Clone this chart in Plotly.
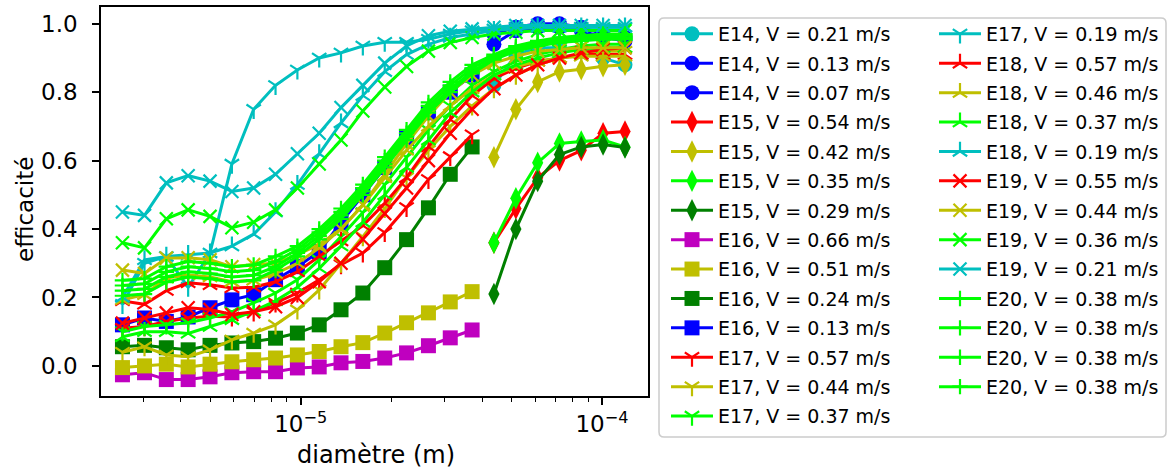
import plotly.graph_objects as go

# ---------------- data ----------------
diam = [2.56e-6, 3.03e-6, 3.58e-6, 4.23e-6, 5.00e-6, 5.91e-6, 6.98e-6, 8.25e-6,
        9.75e-6, 1.152e-5, 1.361e-5, 1.608e-5, 1.901e-5, 2.246e-5, 2.655e-5,
        3.137e-5, 3.707e-5, 4.38e-5, 5.18e-5, 6.12e-5, 7.23e-5, 8.54e-5,
        1.009e-4, 1.193e-4]
diam_small = diam[:17]
diam_large = diam[17:]

E14_021 = [0.82, 0.91, 0.93, 0.93, 0.92, 0.90, 0.88]
E14_013 = [0.97, 0.99, 1.00, 1.00, 0.99, 0.97, 0.96]
E14_007 = [0.94, 0.98, 0.99, 0.99, 0.98, 0.96, 0.95]
E15_054 = [0.36, 0.46, 0.55, 0.60, 0.63, 0.68, 0.685]
E15_042 = [0.61, 0.75, 0.83, 0.86, 0.867, 0.876, 0.88]
E15_035 = [0.36, 0.49, 0.594, 0.65, 0.656, 0.66, 0.64]
E15_029 = [0.21, 0.40, 0.54, 0.618, 0.64, 0.647, 0.638]
E16_066 = [-0.026, -0.02, -0.04, -0.04, -0.032, -0.02, -0.017, -0.017, -0.006,
           -0.003, 0.009, 0.013, 0.023, 0.038, 0.059, 0.082, 0.105]
E16_051 = [-0.005, 0.0, 0.005, -0.003, 0.005, 0.012, 0.018, 0.023, 0.032, 0.042,
           0.056, 0.068, 0.096, 0.126, 0.155, 0.187, 0.217]
E16_024 = [0.056, 0.06, 0.053, 0.047, 0.06, 0.067, 0.071, 0.081, 0.096, 0.12,
           0.164, 0.213, 0.287, 0.369, 0.462, 0.56, 0.64]
E16_013 = [0.12, 0.14, 0.13, 0.143, 0.17, 0.193, 0.208, 0.252, 0.29, 0.334,
           0.419, 0.50, 0.58, 0.665, 0.74, 0.80, 0.85]
E17_057 = [0.11, 0.115, 0.13, 0.14, 0.145, 0.143, 0.158, 0.184, 0.213, 0.252,
           0.296, 0.33, 0.39, 0.463, 0.545, 0.612, 0.676]
E17_044 = [0.04, 0.056, 0.032, 0.027, 0.047, 0.076, 0.096, 0.12, 0.164, 0.222,
           0.30, 0.378, 0.46, 0.55, 0.63, 0.70, 0.76, 0.81, 0.85, 0.88, 0.90,
           0.91, 0.92, 0.92]
E17_037 = [0.10, 0.115, 0.12, 0.126, 0.14, 0.158, 0.184, 0.213, 0.252, 0.31,
           0.378, 0.448, 0.53, 0.61, 0.69, 0.76, 0.82, 0.86, 0.89, 0.91, 0.925,
           0.935, 0.94, 0.94]
E17_019 = [0.18, 0.30, 0.32, 0.23, 0.33, 0.59, 0.75, 0.82, 0.865, 0.90, 0.915,
           0.935, 0.946, 0.946, 0.955, 0.97, 0.98, 0.985, 0.99, 0.99, 0.99,
           0.99, 0.99, 0.99]
E18_057 = [0.19, 0.18, 0.22, 0.243, 0.237, 0.228, 0.23, 0.246, 0.275, 0.32,
           0.365, 0.41, 0.475, 0.55, 0.64, 0.72, 0.79, 0.84, 0.87, 0.89, 0.90,
           0.91, 0.91, 0.91]
E18_046 = [0.193, 0.208, 0.257, 0.266, 0.26, 0.246, 0.25, 0.27, 0.30, 0.345,
           0.40, 0.47, 0.55, 0.63, 0.70, 0.76, 0.81, 0.85, 0.875, 0.89, 0.90,
           0.905, 0.905, 0.905]
E18_037 = [0.085, 0.10, 0.10, 0.095, 0.115, 0.135, 0.16, 0.19, 0.23, 0.285,
           0.35, 0.42, 0.50, 0.58, 0.66, 0.74, 0.80, 0.85, 0.88, 0.90, 0.915,
           0.925, 0.93, 0.93]
E18_019 = [0.20, 0.31, 0.32, 0.325, 0.33, 0.35, 0.385, 0.45, 0.53, 0.62, 0.71,
           0.79, 0.86, 0.91, 0.94, 0.96, 0.97, 0.98, 0.985, 0.99, 0.99, 0.99,
           0.99, 0.99]
E19_055 = [0.125, 0.14, 0.155, 0.17, 0.165, 0.15, 0.158, 0.173, 0.20, 0.246,
           0.30, 0.37, 0.445, 0.52, 0.60, 0.68, 0.75, 0.81, 0.85, 0.88, 0.90,
           0.915, 0.925, 0.93]
E19_044 = [0.28, 0.27, 0.315, 0.316, 0.31, 0.29, 0.296, 0.30, 0.325, 0.355,
           0.40, 0.47, 0.56, 0.65, 0.73, 0.80, 0.85, 0.885, 0.905, 0.92, 0.925,
           0.93, 0.93, 0.93]
E19_036 = [0.36, 0.345, 0.43, 0.456, 0.437, 0.404, 0.42, 0.456, 0.52, 0.59,
           0.66, 0.745, 0.815, 0.875, 0.92, 0.945, 0.96, 0.97, 0.975, 0.98,
           0.98, 0.98, 0.98, 0.98]
E19_021 = [0.45, 0.44, 0.535, 0.556, 0.54, 0.51, 0.52, 0.56, 0.62, 0.68, 0.755,
           0.82, 0.885, 0.935, 0.965, 0.978, 0.985, 0.99, 0.995, 0.995, 0.995,
           0.995, 0.995, 0.995]
E20_a = [0.25, 0.255, 0.29, 0.305, 0.30, 0.29, 0.295, 0.32, 0.35, 0.40, 0.46,
         0.53, 0.61, 0.69, 0.77, 0.83, 0.88, 0.91, 0.935, 0.95, 0.96, 0.965,
         0.97, 0.97]
E20_b = [0.235, 0.24, 0.275, 0.29, 0.285, 0.275, 0.28, 0.305, 0.34, 0.39, 0.45,
         0.52, 0.60, 0.68, 0.76, 0.82, 0.87, 0.905, 0.93, 0.945, 0.955, 0.96,
         0.965, 0.965]
E20_c = [0.22, 0.225, 0.26, 0.275, 0.27, 0.26, 0.265, 0.29, 0.33, 0.38, 0.44,
         0.51, 0.59, 0.67, 0.75, 0.81, 0.86, 0.90, 0.925, 0.94, 0.95, 0.955,
         0.96, 0.96]
E20_d = [0.205, 0.21, 0.245, 0.26, 0.255, 0.245, 0.25, 0.28, 0.32, 0.37, 0.43,
         0.50, 0.58, 0.66, 0.74, 0.80, 0.855, 0.895, 0.92, 0.935, 0.945, 0.95,
         0.955, 0.955]

labels = ["E14, V = 0.21 m/s", "E14, V = 0.13 m/s", "E14, V = 0.07 m/s",
          "E15, V = 0.54 m/s", "E15, V = 0.42 m/s", "E15, V = 0.35 m/s",
          "E15, V = 0.29 m/s", "E16, V = 0.66 m/s", "E16, V = 0.51 m/s",
          "E16, V = 0.24 m/s", "E16, V = 0.13 m/s", "E17, V = 0.57 m/s",
          "E17, V = 0.44 m/s", "E17, V = 0.37 m/s", "E17, V = 0.19 m/s",
          "E18, V = 0.57 m/s", "E18, V = 0.46 m/s", "E18, V = 0.37 m/s",
          "E18, V = 0.19 m/s", "E19, V = 0.55 m/s", "E19, V = 0.44 m/s",
          "E19, V = 0.36 m/s", "E19, V = 0.21 m/s", "E20, V = 0.38 m/s",
          "E20, V = 0.38 m/s", "E20, V = 0.38 m/s", "E20, V = 0.38 m/s"]

x_title = "diamètre (m)"
y_title = "efficacité"
xtick_vals = [1e-5, 1e-4]
xtick_text = ["10<sup>\u22125</sup>", "10<sup>\u22124</sup>"]
xminor_vals = [2e-6, 3e-6, 4e-6, 5e-6, 6e-6, 7e-6, 8e-6, 9e-6,
               2e-5, 3e-5, 4e-5, 5e-5, 6e-5, 7e-5, 8e-5, 9e-5]
ytick_vals = [0.0, 0.2, 0.4, 0.6, 0.8, 1.0]

# ---------------- styles ----------------
C = "#00bfbf"; B = "#0000ff"; R = "#ff0000"; Y = "#bfbf00"
L = "#00ff00"; G = "#008000"; M = "#bf00bf"

series = [
    (diam_large, E14_021, C, "circle"), (diam_large, E14_013, B, "circle"),
    (diam_large, E14_007, B, "circle"),
    (diam_large, E15_054, R, "diamond-tall"), (diam_large, E15_042, Y, "diamond-tall"),
    (diam_large, E15_035, L, "diamond-tall"), (diam_large, E15_029, G, "diamond-tall"),
    (diam_small, E16_066, M, "square"), (diam_small, E16_051, Y, "square"),
    (diam_small, E16_024, G, "square"), (diam_small, E16_013, B, "square"),
    (diam_small, E17_057, R, "y-down"), (diam, E17_044, Y, "y-down"),
    (diam, E17_037, L, "y-down"), (diam, E17_019, C, "y-down"),
    (diam, E18_057, R, "y-up"), (diam, E18_046, Y, "y-up"),
    (diam, E18_037, L, "y-up"), (diam, E18_019, C, "y-up"),
    (diam, E19_055, R, "x-thin"), (diam, E19_044, Y, "x-thin"),
    (diam, E19_036, L, "x-thin"), (diam, E19_021, C, "x-thin"),
    (diam, E20_a, L, "cross-thin"), (diam, E20_b, L, "cross-thin"),
    (diam, E20_c, L, "cross-thin"), (diam, E20_d, L, "cross-thin"),
]

sizes = {"circle": 15, "square": 15, "diamond-tall": 16, "y-down": 12,
         "y-up": 12, "x-thin": 13, "cross-thin": 11}

fig = go.Figure()
for i, ((xs, ys, col, sym), lab) in enumerate(zip(series, labels)):
    thin = sym in ("y-down", "y-up", "x-thin", "cross-thin")
    fig.add_trace(go.Scatter(
        x=xs, y=ys, name=lab, mode="lines+markers",
        line=dict(color=col, width=3),
        marker=dict(symbol=sym, size=sizes[sym], color=col,
                    line=dict(color=col, width=2.2 if thin else 0)),
        legend="legend" if i < 14 else "legend2",
        legendgroup=f"g{i}",
    ))

W, H = 1173, 472
ml, mr, mt, mb = 101, 525, 7, 76
pw, ph = W - ml - mr, H - mt - mb

def px2paper(px, py):
    return (px - ml) / pw, (H - mb - py) / ph

# rounded legend frame
fx0, fy0 = px2paper(659, 437)
fx1, fy1 = px2paper(1166, 18)
rx, ry = 5 / pw, 5 / ph
frame = (f"M{fx0+rx},{fy1} L{fx1-rx},{fy1} Q{fx1},{fy1} {fx1},{fy1-ry} "
         f"L{fx1},{fy0+ry} Q{fx1},{fy0} {fx1-rx},{fy0} L{fx0+rx},{fy0} "
         f"Q{fx0},{fy0} {fx0},{fy0+ry} L{fx0},{fy1-ry} Q{fx0},{fy1} {fx0+rx},{fy1} Z")

leg_common = dict(xref="container", yref="container", xanchor="left",
                  yanchor="top", font=dict(size=19, color="black"),
                  bgcolor="rgba(0,0,0,0)", borderwidth=0, itemwidth=42,
                  tracegroupgap=1.7, maxheight=460)

xt_x, xt_y = px2paper(376, 455)
yt_x, yt_y = px2paper(25, 210)

fig.update_layout(
    width=W, height=H,
    margin=dict(l=ml, r=mr, t=mt, b=mb, pad=0, autoexpand=False),
    plot_bgcolor="white", paper_bgcolor="white",
    font=dict(family="DejaVu Sans", size=23, color="black"),
    showlegend=True,
    legend=dict(x=666 / W, y=1 - 15 / H, **leg_common),
    legend2=dict(x=934 / W, y=1 - 15 / H, **leg_common),
    shapes=[dict(type="path", path=frame, xref="paper", yref="paper",
                 line=dict(color="#cccccc", width=1.5),
                 fillcolor="rgba(255,255,255,0.8)", layer="below")],
    annotations=[
        dict(text=x_title, x=xt_x, y=xt_y, xref="paper", yref="paper",
             xanchor="center", yanchor="middle", showarrow=False,
             font=dict(size=24)),
        dict(text=y_title, x=yt_x, y=yt_y, xref="paper", yref="paper",
             xanchor="center", yanchor="middle", showarrow=False,
             textangle=-90, font=dict(size=23)),
    ],
    xaxis=dict(
        type="log", range=[-5.663, -3.847], automargin=False,
        tickvals=xtick_vals, ticktext=xtick_text,
        ticks="outside", ticklen=7, tickwidth=1.6, tickcolor="black",
        showline=True, linecolor="black", linewidth=1.6, mirror=True,
        showgrid=False, zeroline=False,
        minor=dict(tickvals=xminor_vals, ticks="outside", ticklen=4,
                   tickwidth=1.2, tickcolor="black", showgrid=False),
    ),
    yaxis=dict(
        range=[-0.088, 1.049], tickvals=ytick_vals, tickformat=".1f",
        automargin=False,
        ticks="outside", ticklen=7, tickwidth=1.6, tickcolor="black",
        showline=True, linecolor="black", linewidth=1.6, mirror=True,
        showgrid=False, zeroline=False, ticklabelstandoff=10,
    ),
)

fig.write_html("out.html", config={"displayModeBar": False},
               post_script="document.body.style.margin='0px';")
